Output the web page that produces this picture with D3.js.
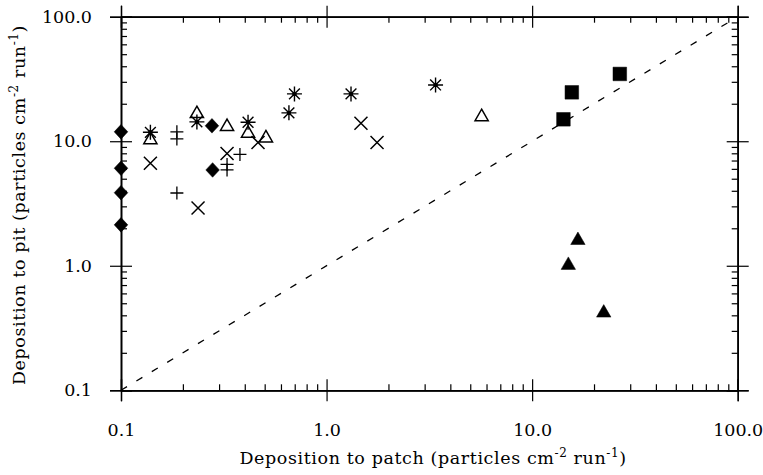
<!DOCTYPE html>
<html>
<head>
<meta charset="utf-8">
<script src="https://cdn.jsdelivr.net/npm/d3@7"></script>
<style>
  body { margin: 0; background: #fff; }
  svg { display: block; }
  text { font-family: "DejaVu Serif", serif; fill: #000; }
</style>
</head>
<body>
<svg id="chart" width="763" height="475"></svg>
<script>
// Series values (patch deposition, pit deposition)
var diamondX = [0.1, 0.1, 0.1, 0.1, 0.277, 0.279];
var diamondY = [11.9, 6.07, 3.86, 2.13, 13.3, 5.88];

var asteriskX = [0.139, 0.234, 0.415, 0.656, 0.698, 1.315, 3.39];
var asteriskY = [11.8, 14.3, 14.2, 16.9, 24.0, 24.0, 28.3];

var openTriX = [0.139, 0.234, 0.328, 0.415, 0.507, 5.68];
var openTriY = [10.24, 16.6, 13.1, 11.55, 10.6, 15.7];

var timesX = [0.139, 0.237, 0.328, 0.464, 1.47, 1.76];
var timesY = [6.66, 2.91, 7.98, 9.78, 13.95, 9.78];

var plusX = [0.187, 0.187, 0.187, 0.379, 0.328, 0.328];
var plusY = [11.9, 10.43, 3.84, 7.83, 6.51, 5.88];

var squareX = [14.2, 15.6, 26.7];
var squareY = [15.0, 24.7, 34.7];

var filledTriX = [16.7, 15.0, 22.3];
var filledTriY = [1.60, 1.01, 0.418];

var majorTicks = [0.1, 1, 10, 100];
var lineOneToOne = [0.1, 100];

var svg = d3.select("#chart");
var padL = 121, padR = 737.7, padT = 16.7, padB = 390.3;

var x = d3.scaleLog().domain([0.1, 100]).range([padL, padR]);
var y = d3.scaleLog().domain([0.1, 100]).range([padB, padT]);

// minor ticks 2..9 in each decade
var minorTicks = [];
[0.1, 1, 10].forEach(function(d) {
    for (var k = 2; k <= 9; k++) minorTicks.push(d * k);
});

var fmt = d3.format(".1f");

function styleAxis(g) {
    g.selectAll(".domain").attr("stroke", "#000").attr("stroke-width", 1.4);
    g.selectAll(".tick line").attr("stroke", "#000").attr("stroke-width", 1.2);
}

// Bottom axis
var gb = svg.append("g").attr("transform", "translate(0," + padB + ")");
gb.call(d3.axisTop(x).tickValues(minorTicks).tickSize(6).tickSizeOuter(0).tickFormat(""));
gb.append("g").call(d3.axisTop(x).tickValues(majorTicks).tickSize(11).tickFormat(""));
var gbl = gb.append("g").call(d3.axisBottom(x).tickValues(majorTicks).tickSize(11).tickPadding(22).tickFormat(fmt));
gbl.selectAll("text").style("font-size", "17.5px").style("font-family", "DejaVu Serif");
styleAxis(gb);

// Top axis
var gt = svg.append("g").attr("transform", "translate(0," + padT + ")");
gt.call(d3.axisBottom(x).tickValues(minorTicks).tickSize(6).tickSizeOuter(0).tickFormat(""));
gt.append("g").call(d3.axisBottom(x).tickValues(majorTicks).tickSize(11).tickFormat(""));
gt.append("g").call(d3.axisTop(x).tickValues(majorTicks).tickSize(11).tickFormat(""));
styleAxis(gt);

// Left axis
var gl = svg.append("g").attr("transform", "translate(" + padL + ",0)");
gl.call(d3.axisRight(y).tickValues(minorTicks).tickSize(6).tickSizeOuter(0).tickFormat(""));
gl.append("g").call(d3.axisRight(y).tickValues(majorTicks).tickSize(11).tickFormat(""));
var gll = gl.append("g").call(d3.axisLeft(y).tickValues(majorTicks).tickSize(11).tickPadding(18).tickFormat(fmt));
gll.selectAll("text").style("font-size", "17.5px").style("font-family", "DejaVu Serif");
styleAxis(gl);

// Right axis
var gr = svg.append("g").attr("transform", "translate(" + padR + ",0)");
gr.call(d3.axisLeft(y).tickValues(minorTicks).tickSize(6).tickSizeOuter(0).tickFormat(""));
gr.append("g").call(d3.axisLeft(y).tickValues(majorTicks).tickSize(11).tickFormat(""));
gr.append("g").call(d3.axisRight(y).tickValues(majorTicks).tickSize(11).tickFormat(""));
styleAxis(gr);

// 1:1 dashed line
svg.append("path")
    .datum(lineOneToOne)
    .attr("d", d3.line().x(d => x(d)).y(d => y(d)))
    .attr("fill", "none")
    .attr("stroke", "#000")
    .attr("stroke-width", 1.3)
    .attr("stroke-dasharray", "7,11");

// marker paths
function plusPath(r) {
    return "M" + (-r) + ",0H" + r + "M0," + (-r) + "V" + r;
}
function timesPath(r) {
    return "M" + (-r) + "," + (-r) + "L" + r + "," + r + "M" + (-r) + "," + r + "L" + r + "," + (-r);
}
function asteriskPath(r) {
    var q = r * 0.72;
    return plusPath(r) + timesPath(q);
}
function diamondPath(w, h) {
    return "M0," + (-h) + "L" + w + ",0L0," + h + "L" + (-w) + ",0Z";
}

function pairs(xs, ys) {
    return xs.map((d, i) => [d, ys[i]]);
}

var marks = svg.append("g");

function drawSeries(xs, ys, pathD, fill, sw) {
    marks.append("g").selectAll("path")
        .data(pairs(xs, ys))
        .enter().append("path")
        .attr("transform", d => "translate(" + x(d[0]) + "," + y(d[1]) + ")")
        .attr("d", pathD)
        .attr("fill", fill)
        .attr("stroke", "#000")
        .attr("stroke-width", sw)
        .attr("stroke-linejoin", "miter");
}

drawSeries(squareX, squareY, d3.symbol().type(d3.symbolSquare).size(185)(), "#000", 0.5);
drawSeries(filledTriX, filledTriY, d3.symbol().type(d3.symbolTriangle).size(90)(), "#000", 0.5);
drawSeries(openTriX, openTriY, d3.symbol().type(d3.symbolTriangle).size(75)(), "#fff", 1.5);
drawSeries(diamondX, diamondY, diamondPath(6.8, 7.3), "#000", 0.5);
drawSeries(timesX, timesY, timesPath(6.5), "none", 1.5);
drawSeries(plusX, plusY, plusPath(6.5), "none", 1.3);
drawSeries(asteriskX, asteriskY, asteriskPath(7.5), "none", 1.4);
marks.append("g").selectAll("circle")
    .data(pairs(asteriskX, asteriskY))
    .enter().append("circle")
    .attr("cx", d => x(d[0])).attr("cy", d => y(d[1]))
    .attr("r", 2.2).attr("fill", "#000");

// axis titles
var xt = svg.append("text")
    .attr("x", 433)
    .attr("y", 464)
    .attr("text-anchor", "middle")
    .style("font-size", "17.5px")
    .style("letter-spacing", "0.6px");
xt.append("tspan").text("Deposition to patch (particles cm");
xt.append("tspan").attr("dy", -7).style("font-size", "12px").text("-2");
xt.append("tspan").attr("dy", 7).text(" run");
xt.append("tspan").attr("dy", -7).style("font-size", "12px").text("-1");
xt.append("tspan").attr("dy", 7).text(")");

var yt = svg.append("text")
    .attr("transform", "translate(25,205) rotate(-90)")
    .attr("text-anchor", "middle")
    .style("font-size", "17.5px")
    .style("letter-spacing", "0.6px");
yt.append("tspan").text("Deposition to pit (particles cm");
yt.append("tspan").attr("dy", -7).style("font-size", "12px").text("-2");
yt.append("tspan").attr("dy", 7).text(" run");
yt.append("tspan").attr("dy", -7).style("font-size", "12px").text("-1");
yt.append("tspan").attr("dy", 7).text(")");
</script>
</body>
</html>
